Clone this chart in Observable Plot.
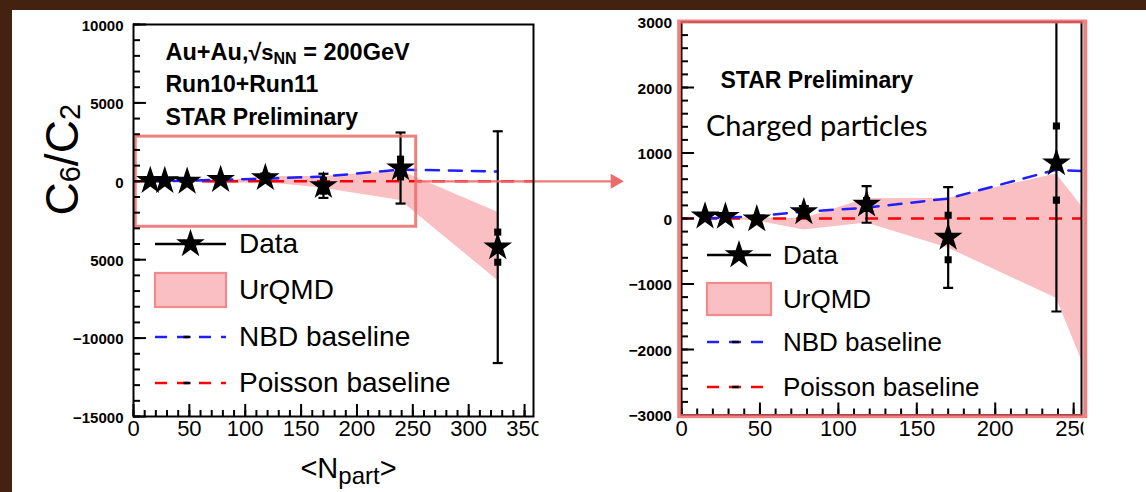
<!DOCTYPE html>
<html>
<head>
<meta charset="utf-8">
<script src="https://cdn.jsdelivr.net/npm/d3@7"></script>
<script src="https://cdn.jsdelivr.net/npm/@observablehq/plot@0.6"></script>
<style>
  html, body { margin: 0; padding: 0; background: #43220f; }
  #page { position: relative; width: 1146px; height: 492px; background: #43220f; overflow: hidden; }
  #white { position: absolute; left: 12px; top: 10px; right: 0; bottom: 0; background: #ffffff; }
  #left { position: absolute; left: 0; top: 0; width: 640px; height: 492px; }
  #right { position: absolute; left: 600px; top: 0; width: 546px; height: 492px; }
</style>
</head>
<body>
<div id="page"><div id="white"></div><div id="left"></div><div id="right"></div></div>
<script>
// ---------------- data ----------------
const npart = [15, 28, 48, 78, 118, 170, 239, 326];
const c6c2 = [35, 30, -10, 100, 215, -290, 846, -4200];
const statErr = [25, 35, 50, 90, 280, 770, 2266, 7390];
const sysErr = [10, 12, 20, 40, 60, 340, 565, 960];
const nbdBaseline = [5, 12, 35, 105, 165, 305, 745, 625];
const urqmdHigh = [5, 5, 10, 0, 300, 310, 678, -1970];
const urqmdLow = [-5, -15, -35, -175, -70, -450, -1218, -6330];
const poissonBaseline = [0];

const legendLabels = ["Data", "UrQMD", "NBD baseline", "Poisson baseline"];
const titleLeft = ["Au+Au,√sNN = 200GeV", "Run10+Run11", "STAR Preliminary"];
const titleRight = ["STAR Preliminary", "Charged particles"];
const yTitle = "C6/C2";
const xTitle = "<Npart>";

const xTicksLeft = [0, 50, 100, 150, 200, 250, 300, 350];
const xLabelsLeft = ["0", "50", "100", "150", "200", "250", "300", "350"];
const yTicksLeft = [10000, 5000, 0, -5000, -10000, -15000];
const yLabelsLeft = ["10000", "5000", "0", "5000", "−10000", "−15000"];
const xTicksRight = [0, 50, 100, 150, 200, 250];
const xLabelsRight = ["0", "50", "100", "150", "200", "250"];
const yTicksRight = [3000, 2000, 1000, 0, -1000, -2000, -3000];
const yLabelsRight = ["3000", "2000", "1000", "0", "−1000", "−2000", "−3000"];

// zoom annotation (left panel data units)
const zoomBox = [{x1: 2, x2: 253, y1: -2900, y2: 2850}];
const arrowSpan = [{from: 253, to: 431, y: 0}];

const rows = npart.map((n, i) => ({
  n, v: c6c2[i], stat: statErr[i], sys: sysErr[i],
  nbd: nbdBaseline[i], hi: urqmdHigh[i], lo: urqmdLow[i]
}));

const FONT = "'Liberation Sans', Arial, Helvetica, sans-serif";
const BAND = "#fabfc2";
const BLUE = "#2020ff";
const RED = "#ff0000";
const PINK = "#ec6b6b";

const cap = {draw(ctx, size) { const h = Math.sqrt(size / Math.PI); ctx.moveTo(-h, 0); ctx.lineTo(h, 0); }};

function dataMarks(clip) {
  return [
    Plot.areaY(rows, {x: "n", y1: "lo", y2: "hi", fill: BAND, clip}),
    Plot.ruleY(poissonBaseline, {y: d => d, stroke: RED, strokeWidth: 2.5, strokeDasharray: "13,10"}),
    Plot.lineY(rows, {x: "n", y: "nbd", stroke: BLUE, strokeWidth: 2.5, strokeDasharray: "13,10", clip}),
    Plot.ruleX(rows, {x: "n", y1: d => d.v - d.stat, y2: d => d.v + d.stat, stroke: "black", strokeWidth: 2.2, clip}),
    Plot.dot(rows, {x: "n", y: d => d.v + d.stat, symbol: cap, r: 5, stroke: "black", fill: "none", strokeWidth: 2.2, clip}),
    Plot.dot(rows, {x: "n", y: d => d.v - d.stat, symbol: cap, r: 5, stroke: "black", fill: "none", strokeWidth: 2.2, clip}),
    Plot.dot(rows, {x: "n", y: d => d.v + d.sys, symbol: "square", r: 4, fill: "black", stroke: "none", clip}),
    Plot.dot(rows, {x: "n", y: d => d.v - d.sys, symbol: "square", r: 4, fill: "black", stroke: "none", clip}),
    Plot.dot(rows, {x: "n", y: "v", symbol: "star", r: 9, fill: "black", stroke: "none", clip})
  ];
}

function tickMarks(o) {
  return [
    Plot.tickY(o.yMinor, {y: d => d, insetRight: o.fw - 7, stroke: "black", strokeWidth: 2}),
    Plot.tickY(o.yMajor, {y: d => d, insetRight: o.fw - 13, stroke: "black", strokeWidth: 2}),
    Plot.tickX(o.xMinor, {x: d => d, insetTop: o.fh - 6, stroke: "black", strokeWidth: 2}),
    Plot.tickX(o.xMajor, {x: d => d, insetTop: o.fh - 12, stroke: "black", strokeWidth: 2}),
    Plot.text(o.yMajor, {y: d => d, text: (d, i) => o.yLabels[i], frameAnchor: "left", dx: o.yDx, dy: 1.5,
      textAnchor: "end", fontSize: o.yFont, fontWeight: "bold", fill: "black"}),
    Plot.text(o.xMajor, {x: d => d, text: (d, i) => o.xLabels[i], frameAnchor: "bottom", dy: o.xDy,
      fontSize: 22, fill: "black"})
  ];
}

function findText(svg, content) {
  return d3.select(svg).selectAll("text").filter(function() { return this.textContent === content; });
}

function rich(svg, content, parts) {
  const t = findText(svg, content);
  t.text(null);
  for (const p of parts) {
    const ts = t.append("tspan").text(p.t);
    if (p.size) ts.attr("font-size", p.size);
    if (p.dy) ts.attr("dy", p.dy);
  }
}

function clipLabel(svg, content, w) {
  const s = d3.select(svg);
  const id = "clip" + Math.round(w);
  s.append("defs").append("clipPath").attr("id", id)
    .append("rect").attr("x", -1000).attr("y", -1000).attr("width", 1000 + w).attr("height", 3000);
  const node = findText(svg, content).node();
  if (node) d3.select(node.parentNode).attr("clip-path", `url(#${id})`);
}

function legend(svg, lay) {
  const g = d3.select(svg).append("g").attr("font-family", FONT).attr("font-size", lay.fontSize)
    .attr("fill", "black").attr("text-anchor", "start");
  const [r0, r1, r2, r3] = lay.rows;
  const c = (lay.x0 + lay.x1) / 2;
  g.append("line").attr("x1", lay.x0).attr("x2", lay.x1).attr("y1", r0).attr("y2", r0)
    .attr("stroke", "black").attr("stroke-width", 2.5);
  g.append("path").attr("d", d3.symbol(d3.symbolStar, Math.PI * 81)()).attr("transform", `translate(${c},${r0})`);
  g.append("rect").attr("x", lay.x0).attr("y", r1 - lay.boxH / 2).attr("width", lay.x1 - lay.x0).attr("height", lay.boxH)
    .attr("fill", BAND).attr("stroke", "#f28a8c").attr("stroke-width", 2.2);
  for (const [y, col] of [[r2, BLUE], [r3, RED]]) {
    g.append("line").attr("x1", lay.x0).attr("x2", lay.x1).attr("y1", y).attr("y2", y)
      .attr("stroke", col).attr("stroke-width", 2.5).attr("stroke-dasharray", "12,10");
    g.append("line").attr("x1", c - 7).attr("x2", c).attr("y1", y).attr("y2", y)
      .attr("stroke", "black").attr("stroke-width", 2.5);
  }
  legendLabels.forEach((t, i) => g.append("text").attr("x", lay.textX).attr("y", lay.rows[i] + lay.base).text(t));
}

// ---------------- left panel ----------------
const L = {W: 640, H: 492, ml: 133, mr: 107, mt: 24, mb: 76};
const fwL = L.W - L.ml - L.mr, fhL = L.H - L.mt - L.mb;
const left = Plot.plot({
  width: L.W, height: L.H, marginLeft: L.ml, marginRight: L.mr, marginTop: L.mt, marginBottom: L.mb,
  x: {domain: [0, 358], axis: null},
  y: {domain: [-15000, 10000], axis: null},
  style: {background: "transparent", overflow: "visible", fontFamily: FONT, maxWidth: "none"},
  marks: [
    ...dataMarks(false),
    Plot.rect(zoomBox, {x1: "x1", x2: "x2", y1: "y1", y2: "y2", fill: "none", stroke: PINK, strokeWidth: 3, strokeOpacity: 0.85}),
    Plot.ruleY(arrowSpan, {y: "y", x1: "from", x2: "to", stroke: PINK, strokeWidth: 2.2, strokeOpacity: 0.9}),
    Plot.dot(arrowSpan, {x: "to", y: "y", symbol: "triangle", rotate: 90, r: 5.6, fill: PINK, stroke: "none"}),
    Plot.frame({stroke: "black", strokeWidth: 2}),
    ...tickMarks({fw: fwL, fh: fhL, yMajor: yTicksLeft, yMinor: d3.range(-15000, 10001, 1000),
      xMajor: xTicksLeft, xMinor: d3.range(0, 358, 10), yLabels: yLabelsLeft, xLabels: xLabelsLeft,
      yDx: -10, yFont: 15, xDy: 19.5}),
    Plot.text([titleLeft[0]], {frameAnchor: "top-left", dx: 32, dy: 35.5, lineAnchor: "bottom", textAnchor: "start",
      fontSize: 23.5, fontWeight: "bold", fill: "black"}),
    Plot.text([titleLeft[1]], {frameAnchor: "top-left", dx: 32, dy: 67.7, lineAnchor: "bottom", textAnchor: "start",
      fontSize: 23, fontWeight: "bold", fill: "black"}),
    Plot.text([titleLeft[2]], {frameAnchor: "top-left", dx: 32, dy: 100, lineAnchor: "bottom", textAnchor: "start",
      fontSize: 23, fontWeight: "bold", fill: "black"}),
    Plot.text([yTitle], {frameAnchor: "left", dx: -70, dy: -5, rotate: -90, fontSize: 46, fill: "black"}),
    Plot.text([xTitle], {frameAnchor: "bottom", dx: 15, dy: 61, lineAnchor: "bottom", fontSize: 29, fill: "black"})
  ]
});
document.getElementById("left").appendChild(left);
rich(left, titleLeft[0], [{t: "Au+Au,√"}, {t: "s", size: 22}, {t: "NN", size: 16, dy: 4}, {t: " = 200GeV", dy: -4}]);
rich(left, yTitle, [{t: "C"}, {t: "6", size: 29, dy: 2}, {t: "/", dy: -2}, {t: "C"}, {t: "2", size: 29, dy: 2}]);
rich(left, xTitle, [{t: "<N"}, {t: "part", size: 24, dy: 6}, {t: ">", dy: -6}]);
clipLabel(left, "350", 538);
legend(left, {x0: 155, x1: 226, textX: 239, rows: [244, 290, 337, 383], boxH: 34, base: 9, fontSize: 28});

// ---------------- right panel ----------------
const R = {W: 546, H: 492, ml: 81, mr: 65, mt: 21.5, mb: 77.5};
const fwR = R.W - R.ml - R.mr, fhR = R.H - R.mt - R.mb;
const right = Plot.plot({
  width: R.W, height: R.H, marginLeft: R.ml, marginRight: R.mr, marginTop: R.mt, marginBottom: R.mb,
  x: {domain: [0, 255], axis: null},
  y: {domain: [-3000, 3000], axis: null},
  style: {background: "transparent", overflow: "visible", fontFamily: FONT, maxWidth: "none"},
  marks: [
    ...dataMarks(true),
    Plot.frame({stroke: "black", strokeWidth: 2}),
    ...tickMarks({fw: fwR, fh: fhR, yMajor: yTicksRight, yMinor: d3.range(-3000, 3001, 200),
      xMajor: xTicksRight, xMinor: d3.range(0, 255, 10), yLabels: yLabelsRight, xLabels: xLabelsRight,
      yDx: -9.5, yFont: 15.5, xDy: 20.5}),
    Plot.frame({stroke: PINK, strokeWidth: 4, strokeOpacity: 0.85, insetLeft: -2.3, insetRight: -3.7, insetTop: -0.5, insetBottom: -1.2}),
    Plot.text([titleRight[0]], {frameAnchor: "top-left", dx: 39, dy: 65.5, lineAnchor: "bottom", textAnchor: "start",
      fontSize: 23, fontWeight: "bold", fill: "black"}),
    Plot.text([titleRight[1]], {frameAnchor: "top-left", dx: 24.5, dy: 113.5, lineAnchor: "bottom", textAnchor: "start",
      fontSize: 29, fontFamily: "Lato, 'Open Sans', sans-serif", fill: "black"})
  ]
});
document.getElementById("right").appendChild(right);
clipLabel(right, "250", 483);
legend(right, {x0: 107, x1: 171, textX: 183, rows: [255, 299, 342, 387], boxH: 32, base: 9, fontSize: 26});
</script>
</body>
</html>
